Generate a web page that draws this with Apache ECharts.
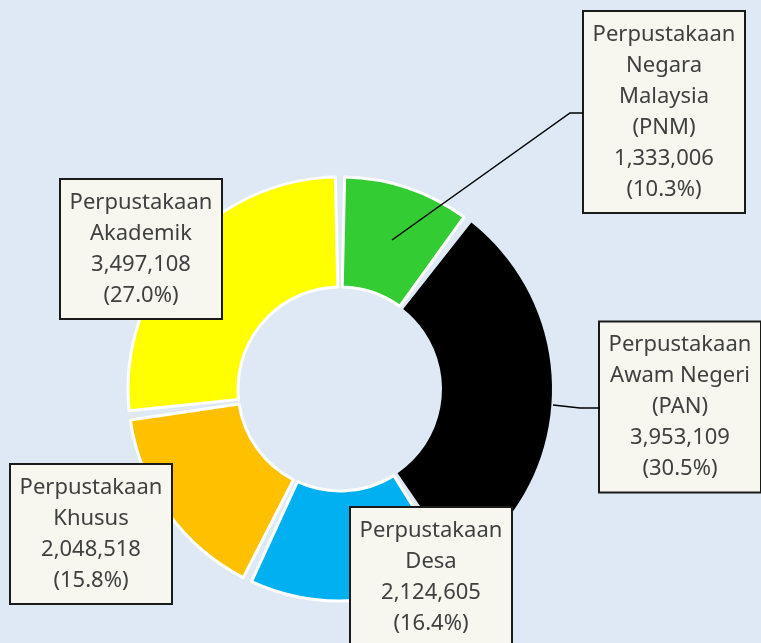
<!DOCTYPE html>
<html>
<head>
<meta charset="utf-8">
<script src="https://cdn.jsdelivr.net/npm/echarts@6/dist/echarts.min.js"></script>
<style>
    html, body { margin: 0; padding: 0; background: #dee9f5; }
    #chart { width: 761px; height: 643px; }
</style>
</head>
<body>
<div id="chart"></div>
<script>
// data
const names = [
    "Perpustakaan\nNegara\nMalaysia\n(PNM)",
    "Perpustakaan\nAwam Negeri\n(PAN)",
    "Perpustakaan\nDesa",
    "Perpustakaan\nKhusus",
    "Perpustakaan\nAkademik",
]
const values = [1333006, 3953109, 2124605, 2048518, 3497108]
const colors = ["#33cc33", "#000000", "#00b0f0", "#ffc000", "#ffff00"]

// label box centres + leader lines
const labelPos = [
    { x: 664, y: 112, line: [[392, 240], [570, 113], [583, 113]] },
    { x: 680, y: 407, line: [[553, 405], [580, 408], [600, 408]] },
    { x: 431, y: 577 },
    { x: 91, y: 534 },
    { x: 141, y: 249 },
]

const fmt = (n) => n.toLocaleString("en-US")

var myChart = echarts.init(document.getElementById("chart"))
myChart.setOption({
    backgroundColor: "#dee9f5",
    animation: false,
    // leader lines drawn on top of the slices (like the original)
    graphic: labelPos
        .filter((p) => p.line)
        .map((p) => ({
            type: "polyline",
            z: 100,
            shape: { points: p.line },
            style: { stroke: "#000", lineWidth: 1.5, fill: null },
        })),
    series: [
        {
            type: "pie",
            center: [340, 389],
            radius: [102, 212],
            startAngle: 90,
            padAngle: 2.5,
            percentPrecision: 1,
            itemStyle: {
                borderColor: "#ffffff",
                borderWidth: 3,
            },
            label: {
                show: true,
                position: "outside",
                formatter: (p) => p.name + "\n" + fmt(p.value) + "\n(" + p.percent.toFixed(1) + "%)",
                fontFamily: "Noto Sans",
                fontSize: 22,
                lineHeight: 31,
                color: "#404040",
                backgroundColor: "#f7f7f0",
                borderColor: "#1a1a1a",
                borderWidth: 2,
                padding: [7, 4],
                width: 152,
                align: "center",
            },
            labelLine: { show: false },
            labelLayout: (params) => {
                const p = labelPos[params.dataIndex]
                return { x: p.x, y: p.y, align: "center", verticalAlign: "middle" }
            },
            data: values.map((v, i) => ({
                value: v,
                name: names[i],
                itemStyle: i === 1
                    ? { color: colors[i], borderColor: colors[i], borderWidth: 0 }
                    : { color: colors[i] },
            })),
        },
    ],
})
</script>
</body>
</html>
